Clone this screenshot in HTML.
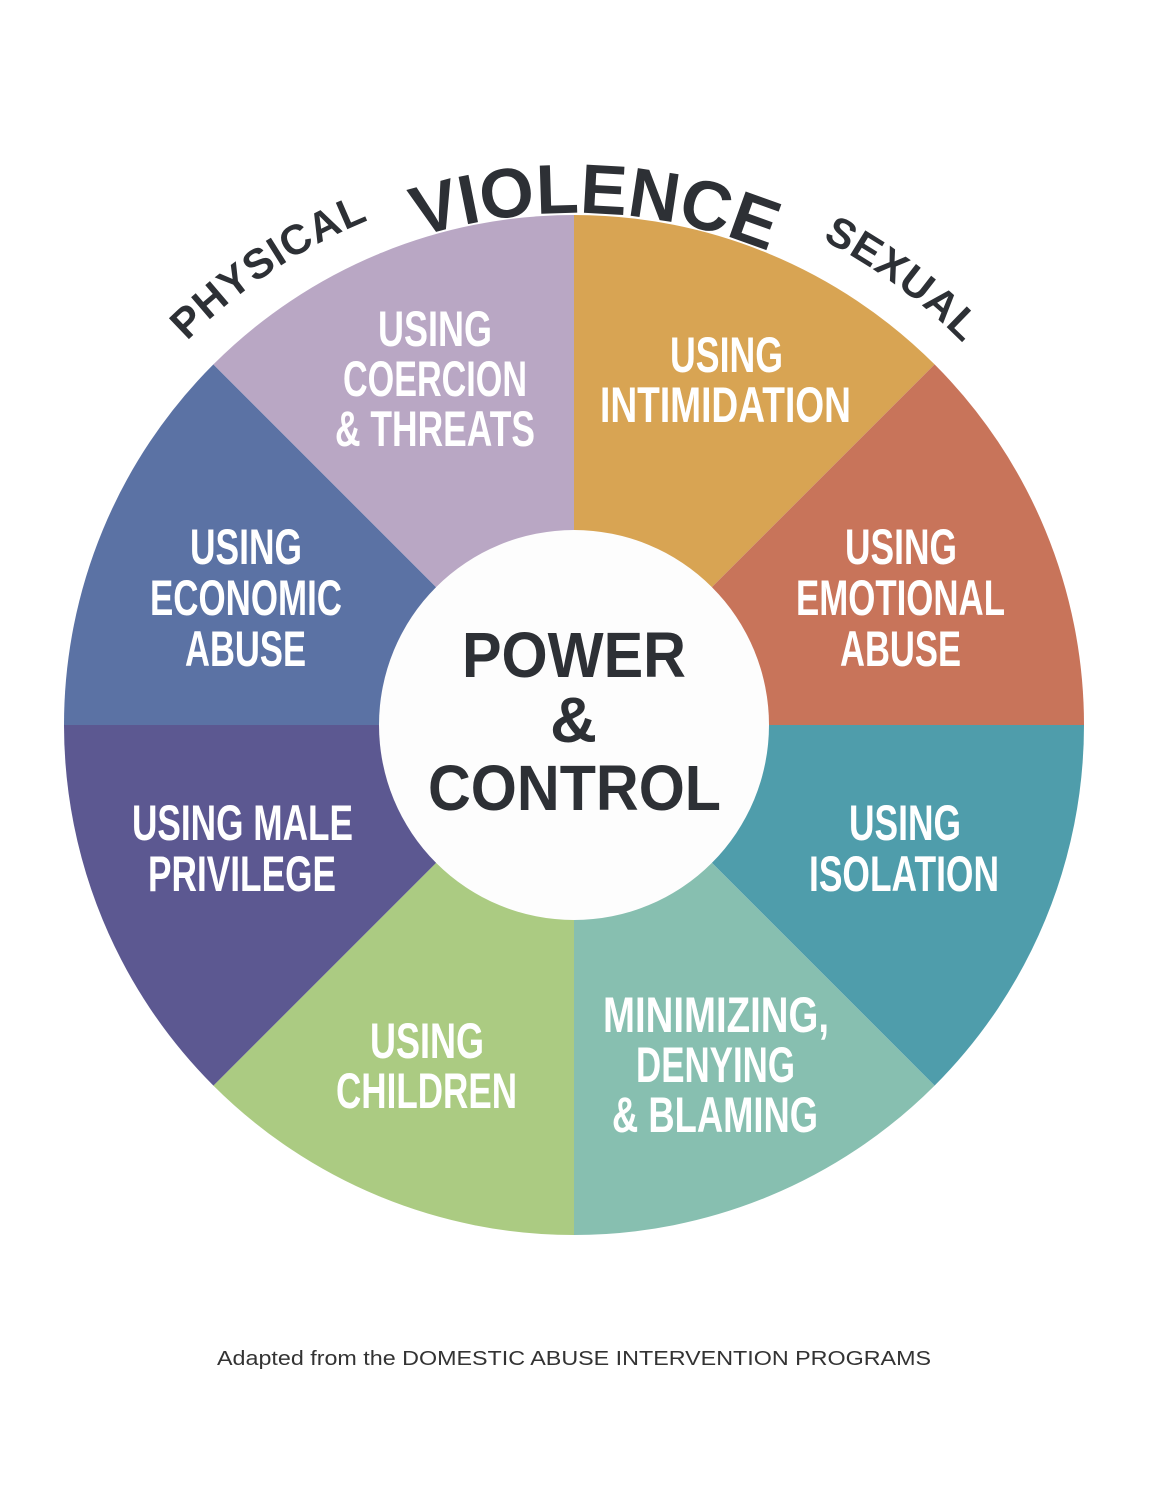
<!DOCTYPE html>
<html><head><meta charset="utf-8"><style>
html,body{margin:0;padding:0;background:#fff;}
svg{display:block;}
.l{font-family:"Liberation Sans Narrow","Liberation Sans",sans-serif;font-weight:bold;font-size:50px;fill:#fff;}
.c{font-family:"Liberation Sans",sans-serif;font-weight:900;fill:#2d3035;}
</style></head><body>
<svg width="1153" height="1493" viewBox="0 0 1153 1493" xmlns="http://www.w3.org/2000/svg">
<defs>
<path id="a1" d="M29,725 A545,545 0 0 1 1119,725"/>
<path id="a2" d="M62,725 A512,512 0 0 1 1086,725"/>
</defs>
<g transform="translate(574,725)">
<path d="M0,0 L0,-510 A510,510 0 0 1 360.6,-360.6 Z" fill="#d8a453"/>
<path d="M0,0 L360.6,-360.6 A510,510 0 0 1 510,0 Z" fill="#c8745a"/>
<path d="M0,0 L510,0 A510,510 0 0 1 360.6,360.6 Z" fill="#4f9dab"/>
<path d="M0,0 L360.6,360.6 A510,510 0 0 1 0,510 Z" fill="#87bfb0"/>
<path d="M0,0 L0,510 A510,510 0 0 1 -360.6,360.6 Z" fill="#abcb82"/>
<path d="M0,0 L-360.6,360.6 A510,510 0 0 1 -510,0 Z" fill="#5c5891"/>
<path d="M0,0 L-510,0 A510,510 0 0 1 -360.6,-360.6 Z" fill="#5b72a4"/>
<path d="M0,0 L-360.6,-360.6 A510,510 0 0 1 0,-510 Z" fill="#b9a7c4"/>
<circle r="195" fill="#fdfdfd"/>
</g>
<g class="l" text-anchor="start">
<text x="378" y="346" textLength="114" lengthAdjust="spacingAndGlyphs">USING</text>
<text x="343" y="396" textLength="184" lengthAdjust="spacingAndGlyphs">COERCION</text>
<text x="335" y="446" textLength="200" lengthAdjust="spacingAndGlyphs">&amp; THREATS</text>
<text x="670" y="372" textLength="113" lengthAdjust="spacingAndGlyphs">USING</text>
<text x="600" y="422" textLength="251" lengthAdjust="spacingAndGlyphs">INTIMIDATION</text>
<text x="845" y="564" textLength="112" lengthAdjust="spacingAndGlyphs">USING</text>
<text x="796" y="615" textLength="209" lengthAdjust="spacingAndGlyphs">EMOTIONAL</text>
<text x="840" y="666" textLength="121" lengthAdjust="spacingAndGlyphs">ABUSE</text>
<text x="849" y="840" textLength="112" lengthAdjust="spacingAndGlyphs">USING</text>
<text x="809" y="891" textLength="190" lengthAdjust="spacingAndGlyphs">ISOLATION</text>
<text x="603" y="1032" textLength="226" lengthAdjust="spacingAndGlyphs">MINIMIZING,</text>
<text x="636" y="1082" textLength="159" lengthAdjust="spacingAndGlyphs">DENYING</text>
<text x="612" y="1132" textLength="206" lengthAdjust="spacingAndGlyphs">&amp; BLAMING</text>
<text x="370" y="1058" textLength="114" lengthAdjust="spacingAndGlyphs">USING</text>
<text x="336" y="1108" textLength="181" lengthAdjust="spacingAndGlyphs">CHILDREN</text>
<text x="132" y="840" textLength="221" lengthAdjust="spacingAndGlyphs">USING MALE</text>
<text x="148" y="891" textLength="188" lengthAdjust="spacingAndGlyphs">PRIVILEGE</text>
<text x="190" y="564" textLength="112" lengthAdjust="spacingAndGlyphs">USING</text>
<text x="150" y="615" textLength="192" lengthAdjust="spacingAndGlyphs">ECONOMIC</text>
<text x="185" y="666" textLength="121" lengthAdjust="spacingAndGlyphs">ABUSE</text>
</g>
<g class="c" font-size="64">
<text x="462" y="677" textLength="224" lengthAdjust="spacingAndGlyphs">POWER</text>
<text x="550" y="742" textLength="47" lengthAdjust="spacingAndGlyphs">&amp;</text>
<text x="428" y="810" textLength="293" lengthAdjust="spacingAndGlyphs">CONTROL</text>
</g>
<g class="c">
<text font-size="42" text-anchor="middle" letter-spacing="1"><textPath href="#a1" startOffset="31.3%">PHYSICAL</textPath></text>
<text font-size="70" text-anchor="middle"><textPath href="#a2" startOffset="51.3%">VIOLENCE</textPath></text>
<text font-size="42" text-anchor="middle" letter-spacing="1"><textPath href="#a1" startOffset="70.2%">SEXUAL</textPath></text>
</g>
<text x="217" y="1365" font-family="Liberation Sans,sans-serif" font-size="20" fill="#333" textLength="714" lengthAdjust="spacingAndGlyphs">Adapted from the DOMESTIC ABUSE INTERVENTION PROGRAMS</text>
</svg>
</body></html>
